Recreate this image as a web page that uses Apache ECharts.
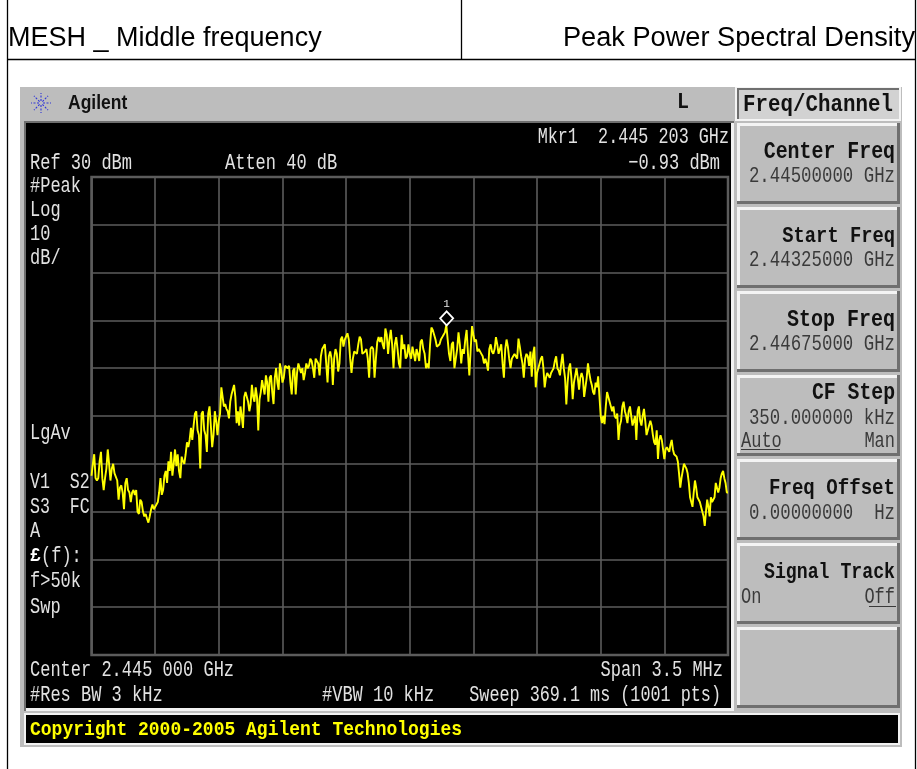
<!DOCTYPE html>
<html>
<head>
<meta charset="utf-8">
<title>Peak Power Spectral Density</title>
<script src="https://cdn.jsdelivr.net/npm/echarts@6/dist/echarts.min.js"></script>
<style>
  html, body { margin: 0; padding: 0; background: #fff; }
  #chart { width: 917px; height: 769px; }
</style>
</head>
<body>
<div id="chart"></div>
<script>
// trace levels in dBm, one graticule division at a time
const traceDiv1 = [-32.5,-30,-28,-33,-33.5,-33,-29.5,-27.5,-33,-35.5,-33,-31,-27,-30,-33.5,-31,-30,-32,-32,-33.5,-37.5,-35,-34.5,-36,-39.5,-34,-33,-35.5,-36,-38,-36,-35.5,-36.5,-35.5,-40,-40.5,-37.5,-38,-40,-41,-40.5,-41.5,-42.3,-41,-39.5,-38.5,-39.5];
const traceDiv2 = [-39.5,-38.5,-38,-36,-33,-36.5,-35.5,-32.5,-31.5,-34,-29.5,-31.5,-27.5,-32.5,-30,-27,-30.5,-28,-31.5,-33,-28.5,-29.5,-30,-28,-25.5,-26.5,-25,-22.5,-25,-22,-19.5,-19,-23,-24,-31,-19.5,-19,-23,-24,-27.5,-19.5,-18,-22,-26.5,-24,-19,-21,-24];
const traceDiv3 = [-21,-19.5,-14,-16,-18,-17.5,-18.5,-19,-20.5,-17,-15.5,-14.5,-13.5,-16,-21.5,-19,-22,-18,-20,-22.5,-16,-15,-15,-17,-19,-17.5,-13.5,-16,-17,-14,-16,-23,-16.5,-15,-12.5,-14,-15.5,-11.5,-13,-17,-12,-11.5,-15,-17.5,-12,-10,-13,-14.5,-9,-10.5];
const traceDiv4 = [-13,-12,-9.5,-9.5,-10,-9.5,-13,-15.5,-10.5,-10,-15.5,-11,-9,-9,-11,-10,-12.5,-11,-9,-10,-9.5,-8,-8.5,-10,-12,-8,-8,-9,-11.5,-7.5,-6,-5.5,-5,-9,-13,-7.5,-6.5,-8,-13.5,-8,-6,-7,-10.7,-9,-4,-3.4,-5.5,-4];
const traceDiv5 = [-3.8,-2.7,-4,-8,-11,-8,-6.5,-6.5,-7,-5,-3.4,-4,-7,-7,-6.5,-6,-8,-12,-6,-5.5,-6,-12,-8,-4.5,-3.5,-4.5,-3.5,-5,-6,-1.7,-3,-7,-4,-2,-5,-10,-5,-3.5,-6,-9,-10,-3,-6,-5,-8,-7.5,-5];
const traceDiv6 = [-7,-8,-5.5,-7,-8.5,-6,-7,-8.5,-4.5,-4,-6,-7,-10,-9,-10,-5,-1.5,-2,-3,-4,-5.5,-5.5,-5,-4,-3.5,-3,-2.5,-0.93,-4,-7,-8.5,-5,-4.5,-10,-8,-6,-2.5,-5,-9,-6,-7,-4,-2,-7,-11.5,-6,-1.2];
const traceDiv7 = [-3,-4.5,-4,-6.5,-6,-6,-7,-7.5,-9,-8,-9,-10.5,-6,-5,-6.5,-7,-6,-3.5,-5,-7,-6,-5,-9,-12,-6,-4,-5.5,-8,-10,-8,-7.5,-7,-7.5,-8,-3.8,-5.5,-7.5,-9,-12,-8,-7,-7.5,-9.5,-6.5,-11.8,-7,-5.5,-14];
const traceDiv8 = [-11,-10,-9,-8,-7.5,-10,-14,-12,-11,-11.5,-12,-11,-10.5,-10,-8.5,-7.5,-10,-10.5,-11.5,-9,-7,-10,-12,-17.6,-13,-10,-9,-12,-16.5,-13,-11.5,-10,-12,-14.5,-12,-11,-12,-16,-14,-12,-9,-11,-12.5,-13.5,-15,-15.5,-13,-14,-11.7,-12];
const traceDiv9 = [-20,-21.5,-20,-21.7,-18,-15,-16,-17,-18,-19,-18,-20,-20.5,-19.5,-25,-22,-21,-18,-17,-19,-20,-21.5,-19,-18,-20,-22,-21,-20,-25,-19,-18,-21,-22,-20,-18.5,-21,-24,-24,-22,-21,-22,-24,-25.5,-26,-23,-29,-25,-24,-25,-27];
const traceDiv10 = [-29,-27,-26.5,-27,-27.5,-26,-25,-27,-28,-28,-28.5,-29.5,-32,-35,-33,-31.5,-30,-30.5,-31,-32,-34,-37,-38,-39,-36,-33.5,-35,-37,-37,-38,-39,-40,-41,-43,-40,-37.5,-39,-41,-37,-38,-38,-37,-34,-35,-36,-35,-33,-32,-31.5,-33,-34,-36];
const traceDivs = [traceDiv1, traceDiv2, traceDiv3, traceDiv4, traceDiv5, traceDiv6, traceDiv7, traceDiv8, traceDiv9, traceDiv10];
const traceEnd = -36;

const spanKHz = 3500;
const divKHz = 350;
const refLevel = 30;
const bottomLevel = -70;
const dbPerDiv = 10;
const markerKHz = 1953; // 2.445 203 GHz, counted from the start frequency
const markerLevel = -0.93;

const screenLeftLabels = ["#Peak", "Log", "10", "dB/", "LgAv", "V1  S2", "S3  FC", "A"];
const sideLabelsLower = ["f>50k", "Swp"];

const mono = '"Liberation Mono", "DejaVu Sans Mono", monospace';
const sans = '"Liberation Sans", Arial, sans-serif';
const screenText = "#e2e2e2";
const keyText = "#3a3a3a";

// the analyzer font is tall and narrow, so text is stretched upward around its own line
function text(x, y, str, opts) {
  opts = opts || {};
  return {
    type: "text",
    z: 5,
    x: x,
    y: y + 2,
    scaleY: opts.stretch || 1.3,
    silent: true,
    style: {
      text: str,
      fill: opts.color || screenText,
      font: (opts.weight || "normal") + " " + (opts.size || 17) + "px " + (opts.family || mono),
      textAlign: opts.align || "left",
      textVerticalAlign: "middle",
    },
  };
}

function keyTitle(y, str, size) {
  return text(895, y, str, { color: "#111", size: size, weight: "bold", align: "right", stretch: 1.2 });
}

function keyValue(y, str) {
  return text(895, y, str, { color: keyText, size: 17.4, align: "right" });
}

function box(x, y, w, h, fill, z) {
  return {
    type: "rect",
    z: z === undefined ? -3 : z,
    silent: true,
    shape: { x: x, y: y, width: w, height: h },
    style: { fill: fill },
  };
}

function rule(x1, y1, x2, y2, color, width, z) {
  return {
    type: "line",
    z: z === undefined ? 5 : z,
    silent: true,
    shape: { x1: x1, y1: y1, x2: x2, y2: y2 },
    style: { stroke: color, lineWidth: width || 1 },
  };
}

// softkey with the raised bevel: white on top and left, dark on bottom and right
function softKey(y, h) {
  const x = 737, w = 163;
  return [
    box(x, y, w, h, "#6f6f6f", -2),
    box(x, y, w - 3, h - 3, "#f4f4f4", -2),
    box(x + 3, y + 3, w - 6, h - 6, "#bdbdbd", -2),
  ];
}

function agilentLogo(cx, cy) {
  const items = [];
  for (let i = 0; i < 8; i++) {
    const a = (i * Math.PI) / 4;
    items.push({
      type: "line",
      z: 5,
      silent: true,
      shape: {
        x1: cx + 2 * Math.cos(a),
        y1: cy + 2 * Math.sin(a),
        x2: cx + 10 * Math.cos(a),
        y2: cy + 10 * Math.sin(a),
      },
      style: { stroke: "#2f35d8", lineWidth: 1.1, lineDash: [2, 1.5] },
    });
  }
  return items;
}

const elements = [
  // page frame and header cells
  rule(7.5, 0, 7.5, 769, "#000", 1.3),
  rule(915.5, 0, 915.5, 769, "#000", 1.3),
  rule(461.5, 0, 461.5, 59, "#000", 1.3),
  rule(7, 59.5, 916, 59.5, "#000", 1.3),
  text(8, 36, "MESH _ Middle frequency", { color: "#000", size: 27, family: sans, stretch: 1.03 }),
  text(915, 36, "Peak Power Spectral Density", { color: "#000", size: 27.2, family: sans, align: "right", stretch: 1.03 }),

  // instrument body
  box(20, 87, 882, 660, "#bdbdbd", -4),
  box(24, 121, 710, 590, "#6f6f6f", -3),
  box(26, 123, 708, 588, "#f2f2f2", -3),
  box(26, 123, 705, 585, "#000", -2),
  box(24, 713, 876, 32, "#f2f2f2", -3),
  box(26, 715, 872, 28, "#000", -2),

  // softkey title
  box(735, 87, 166, 34, "#f4f4f4", -3),
  box(737, 88, 162, 31, "#6f6f6f", -2),
  box(739, 90, 160, 29, "#d2d2d2", -2),
  text(818, 103, "Freq/Channel", { color: "#111", size: 20.8, weight: "bold", align: "center", stretch: 1.15 }),

  ...softKey(123, 81),
  ...softKey(207, 81),
  ...softKey(291, 81),
  ...softKey(375, 81),
  ...softKey(459, 81),
  ...softKey(543, 81),
  ...softKey(627, 81),

  text(68, 102, "Agilent", { color: "#111", size: 17.5, weight: "bold", family: sans, stretch: 1.12 }),
  ...agilentLogo(41, 103),
  text(683, 100, "L", { color: "#111", size: 20, weight: "bold", align: "center", stretch: 1.1 }),

  // annotation on the screen
  text(729, 135, "Mkr1  2.445 203 GHz", { size: 16.8, align: "right" }),
  text(720, 161, "\u22120.93 dBm", { align: "right" }),
  text(30, 161, "Ref 30 dBm"),
  text(225, 161, "Atten 40 dB"),
  text(30, 184, screenLeftLabels[0]),
  text(30, 208, screenLeftLabels[1]),
  text(30, 232, screenLeftLabels[2]),
  text(30, 256, screenLeftLabels[3]),
  text(30, 431, screenLeftLabels[4]),
  text(30, 480, screenLeftLabels[5], { size: 16.6 }),
  text(30, 505, screenLeftLabels[6], { size: 16.6 }),
  text(30, 529, screenLeftLabels[7]),
  text(30, 554, "\u00a3", { weight: "bold", size: 18, color: "#fff", stretch: 1.1 }),
  text(41, 554, "(f):"),
  text(30, 579, sideLabelsLower[0]),
  text(30, 605, sideLabelsLower[1]),
  text(30, 668, "Center 2.445 000 GHz"),
  text(723, 668, "Span 3.5 MHz", { align: "right" }),
  text(30, 693, "#Res BW 3 kHz"),
  text(322, 693, "#VBW 10 kHz"),
  text(721, 693, "Sweep 369.1 ms (1001 pts)", { size: 16.8, align: "right" }),

  // softkey captions
  keyTitle(150, "Center Freq", 19.9),
  keyValue(174, "2.44500000 GHz"),
  keyTitle(234, "Start Freq", 18.8),
  keyValue(258, "2.44325000 GHz"),
  keyTitle(318, "Stop Freq", 20),
  keyValue(342, "2.44675000 GHz"),
  keyTitle(391, "CF Step", 19.8),
  keyValue(416, "350.000000 kHz"),
  text(741, 439, "Auto", { color: keyText }),
  rule(741, 449.5, 780, 449.5, keyText, 1),
  text(895, 439, "Man", { color: keyText, align: "right" }),
  keyTitle(486, "Freq Offset", 19.1),
  keyValue(511, "0.00000000  Hz"),
  keyTitle(570, "Signal Track", 18.2),
  text(741, 595, "On", { color: keyText }),
  text(895, 595, "Off", { color: keyText, align: "right" }),
  rule(869, 606.5, 896, 606.5, keyText, 1),

  text(30, 728, "Copyright 2000-2005 Agilent Technologies", { color: "#ffff00", size: 18, weight: "bold", stretch: 1.15 }),
];

const traceData = [];
traceDivs.forEach((levels, d) => {
  levels.forEach((level, i) => {
    traceData.push([(d + i / levels.length) * divKHz, level]);
  });
});
traceData.push([spanKHz, traceEnd]);

const gridLine = { lineStyle: { color: "#5c5c5c", width: 1.6 } };

const chart = echarts.init(document.getElementById("chart"), null, { renderer: "canvas" });
chart.setOption({
  animation: false,
  backgroundColor: "#fff",
  grid: {
    left: 91.5,
    right: 189,
    top: 177,
    bottom: 114,
    show: true,
    borderColor: "#5c5c5c",
    borderWidth: 2.5,
    backgroundColor: "transparent",
  },
  xAxis: {
    type: "value",
    min: 0,
    max: spanKHz,
    interval: divKHz,
    axisLine: { show: false },
    axisTick: { show: false },
    axisLabel: { show: false },
    splitLine: gridLine,
  },
  yAxis: {
    type: "value",
    min: bottomLevel,
    max: refLevel,
    interval: dbPerDiv,
    axisLine: { show: false },
    axisTick: { show: false },
    axisLabel: { show: false },
    splitLine: gridLine,
  },
  graphic: { elements: elements },
  series: [
    {
      type: "line",
      data: traceData,
      showSymbol: false,
      symbol: "none",
      sampling: false,
      lineStyle: { color: "#ffff00", width: 1.9 },
      markPoint: {
        silent: true,
        symbol: "diamond",
        symbolSize: [13, 14],
        symbolOffset: [0, -6.5],
        itemStyle: { color: "#000", borderColor: "#ffffff", borderWidth: 1.8 },
        label: {
          show: true,
          formatter: "1",
          position: "top",
          distance: 1,
          color: screenText,
          fontFamily: mono,
          fontSize: 11,
        },
        data: [{ coord: [markerKHz, markerLevel] }],
      },
    },
  ],
});
</script>
</body>
</html>
